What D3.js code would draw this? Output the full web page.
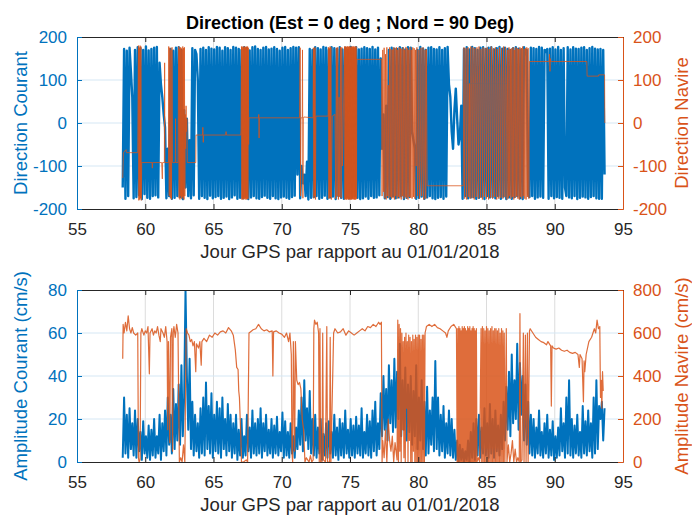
<!DOCTYPE html>
<html><head><meta charset="utf-8">
<script src="https://cdn.jsdelivr.net/npm/d3@7"></script>
<style>
body{margin:0;background:#fff}
svg{display:block}
text{font-family:"Liberation Sans",Arial,Helvetica,sans-serif}
</style>
</head><body>
<svg id="chart" width="692" height="515"></svg>
<script>
// ---------------- DATA ----------------
const xTicks = [55, 60, 65, 70, 75, 80, 85, 90, 95];
const dirTicks = [-200, -100, 0, 100, 200];
const ampCourantTicks = [0, 20, 40, 60, 80];
const ampNavireTicks = [0, 200, 400, 600, 800];

const titleText = "Direction (Est = 0 deg ; Nord = 90 Deg)";
const xLabelText = "Jour GPS par rapport au 01/01/2018";
const yLabels = ["Direction Courant", "Direction Navire", "Amplitude Courant (cm/s)", "Amplitude Navire (cm/s)"];

// current series sampled every 0.1 day starting at day 58.35
const courantStart = 58.35, courantStep = 0.1;

// Direction courant (deg), one row per day
const dirCourant = [
 -150,172,-176,168,-170,175,120,60,-175,170,
 -172,176,-168,174,-177,170,-165,178,-174,169,
 -176,172,-170,175,-168,177,-173,140,90,60,
 20,-10,-175,-60,-170,172,-176,168,-174,175,
 -170,176,-172,170,-177,30,-150,10,-170,-40,
 -175,174,-168,170,160,100,-176,172,-170,175,
 -174,170,-177,176,-169,173,-175,171,-172,177,
 -170,175,-176,168,-174,176,-171,174,-177,170,
 -173,177,-168,175,-176,172,-174,170,-175,176,
 -171,174,-177,169,-173,176,-170,178,-175,172,
 -176,170,-172,175,-169,177,-174,171,-176,173,
 -170,176,-175,172,-177,168,-173,175,-171,177,
 -174,170,-176,174,-172,177,-169,175,-120,176,
 -175,-100,-140,-120,-170,-90,-178,172,-174,170,
 -172,176,-170,174,-176,171,-174,177,-169,175,
 -176,170,-173,176,-171,174,-177,172,-170,176,
 -174,171,-176,175,-172,170,-175,177,-173,172,
 -170,176,-174,171,-177,173,-175,176,-171,174,
 -176,172,-170,177,-174,171,-173,175,-168,150,
 -60,20,-175,40,-172,170,-176,175,-170,173,
 -175,172,-173,176,-170,174,-177,171,-174,176,
 -172,175,-20,-40,-60,-176,170,-174,177,-171,
 173,-176,170,-173,175,-170,176,-175,172,-177,
 171,-174,176,-172,170,-176,174,-171,177,90,
 60,-20,-60,30,80,10,-50,-30,40,-176,
 172,-170,176,-175,171,-173,177,-172,174,-176,
 170,-174,175,-171,176,-177,172,-170,175,-173,
 176,-172,171,-175,174,-170,177,-176,173,-171,
 175,-177,172,-173,170,-176,174,-172,176,-170,
 173,-175,171,-177,176,160,170,-165,-172,175,
 -170,174,-176,172,-173,177,-171,175,-174,170,
 165,172,-176,173,-170,176,-175,171,-172,177,
 -174,170,-176,174,-150,-170,176,-173,171,-175,
 176,-170,173,-177,172,-174,175,-171,176,-173,
 170,-176,174,-172,177,-170,173,-175,171,-176,
 172,-176,170,-120
];

// Amplitude courant (cm/s), one row per day
const ampCourant = [
 2,30,4,22,2,25,6,18,3,24,
 2,20,5,14,1,19,4,12,2,17,
 1,15,3,20,2,12,4,22,1,18,
 5,24,3,30,8,22,4,34,6,27,
 10,36,8,45,12,30,80,40,15,48,
 6,28,3,22,5,18,2,25,4,30,
 3,37,6,26,4,32,2,22,5,28,
 4,25,2,30,6,20,3,27,5,22,
 2,18,4,22,1,15,3,20,2,12,
 3,22,5,16,2,24,4,18,3,20,
 4,25,2,18,5,22,3,15,4,20,
 2,17,4,21,3,14,5,23,2,19,
 3,14,2,18,4,12,2,16,6,24,
 8,30,5,38,10,25,6,33,4,20,
 3,22,2,16,4,20,1,13,3,18,
 2,19,4,14,2,22,3,16,1,20,
 3,18,2,24,4,15,2,20,3,17,
 2,21,4,17,3,25,2,14,4,22,
 3,19,2,24,5,28,3,18,6,32,
 12,40,15,34,10,45,18,38,14,48,
 16,42,20,55,12,38,15,44,10,36,
 14,40,8,33,12,45,6,30,10,38,
 6,28,3,35,4,24,8,30,5,47,
 6,30,3,22,5,26,2,18,4,24,
 3,20,2,15,1,10,0,8,1,6,
 0,5,1,10,0,14,2,18,1,20,
 3,22,2,16,4,25,3,18,2,27,
 4,20,2,24,5,17,3,22,6,28,
 10,35,15,42,12,50,18,38,20,55,
 15,46,22,40,10,36,8,28,4,22,
 3,20,2,16,4,24,3,14,2,18,
 4,22,2,15,3,19,1,12,2,16,
 3,25,5,18,2,30,4,38,3,20,
 2,17,4,22,3,14,2,26,4,19,
 3,24,5,18,2,30,4,38,6,26,
 20,28,10,25
];

// Direction navire (deg): [day, value]
const dirNavire = [
 [58.35,-128],[58.4,-69],[58.6,-62],[58.62,-69],[59.45,-69],
 [59.5,180],[59.53,-180],[59.56,175],[59.59,-178],[59.62,180],[59.65,-175],[59.68,178],[59.71,-180],[59.74,-92],
 [60.5,-92],[60.52,-105],[60.54,-92],[61.2,-92],[61.25,-130],[61.27,-92],[61.4,-92],[61.42,140],[61.44,-92],
 [61.7,-92],[61.72,178],[61.76,-170],[61.8,175],[61.84,-175],[61.88,170],[61.92,-178],[61.96,176],[62.0,-92],
 [62.2,-92],[62.22,10],[62.24,-92],[62.4,-92],
 [62.45,178],[62.48,-175],[62.51,172],[62.54,-178],[62.57,176],[62.6,-170],[62.63,175],[62.66,-176],[62.69,170],[62.72,-172],
 [62.75,178],[62.78,-175],[62.81,174],[62.84,-178],[62.87,176],[62.9,-170],[62.93,20],[62.96,-60],[62.99,40],[63.02,-20],[63.05,10],[63.08,-92],
 [63.7,-92],[63.72,-28],[64.2,-28],[64.22,-10],[64.25,-45],[64.27,-28],[65.9,-28],[65.92,-20],[65.94,-28],[67.0,-28],[67.02,-15],
 [67.05,178],[67.075,-178],[67.1,176],[67.125,-176],[67.15,178],[67.175,-178],[67.2,175],[67.225,-177],[67.25,178],[67.275,-176],
 [67.3,177],[67.325,-178],[67.35,176],[67.375,-175],[67.4,178],[67.425,-178],[67.45,176],[67.475,-176],[67.5,178],[67.525,-177],
 [67.55,175],[67.575,-50],[67.6,12],
 [68.3,12],[68.32,20],[68.34,-35],[68.36,12],[71.3,12],
 [71.35,175],[71.38,-170],[71.41,12],[71.5,12],[71.52,170],[71.55,-175],[71.58,10],[71.62,14],[72.3,12],
 [72.32,175],[72.35,-175],[72.38,172],[72.41,-170],[72.44,176],[72.47,-178],[72.5,16],[73.4,16],
 [73.42,176],[73.45,-176],[73.48,174],[73.51,-175],[73.54,178],[73.57,-172],[73.6,176],[73.63,-178],[73.7,16],[73.9,20],
 [73.95,-176],[74.0,175],[74.05,-170],[74.1,176],[74.15,-178],[74.2,60],[74.25,-172],[74.3,176],[74.35,-175],[74.4,176],[74.45,-100],
 [74.6,178],[74.625,-178],[74.65,177],[74.675,-177],[74.7,178],[74.725,-178],[74.75,176],[74.775,-178],[74.8,178],[74.825,-176],
 [74.85,178],[74.875,-178],[74.9,177],[74.925,-178],[74.95,178],[74.975,-177],[75.0,178],[75.025,-178],[75.05,176],[75.075,-178],
 [75.1,178],[75.125,-178],[75.15,177],[75.175,-176],[75.2,178],[75.225,-178],[75.25,178],[75.275,-177],[75.3,176],[75.325,-178],
 [75.35,178],[75.375,-178],[75.4,177],[75.425,-178],[75.45,178],[75.475,-176],[75.5,148],
 [77.3,148],
 [77.35,-170],[77.4,170],[77.45,-160],[77.5,175],[77.55,-175],[77.6,160],[77.65,-178],[77.7,176],[77.75,-170],[77.8,88],
 [77.85,-175],[77.9,176],[77.95,-172],[78.0,172],[78.05,-176],[78.1,170],[78.15,-174],[78.2,176],[78.25,-178],[78.3,174],
 [78.35,-170],[78.4,176],[78.45,-176],[78.5,170],[78.55,-172],[78.6,176],[78.65,-175],[78.7,174],[78.75,-178],[78.8,172],
 [78.85,-170],[78.9,176],[78.95,-176],[79.0,170],[79.05,-172],[79.1,177],[79.15,-175],[79.2,174],[79.25,-178],[79.3,170],
 [79.35,-172],[79.4,176],[79.45,-174],[79.5,170],[79.55,-176],[79.6,176],[79.65,-172],[79.7,174],[79.75,-176],[79.8,170],
 [79.85,-100],[79.9,176],[79.95,-170],[80.0,-100],[80.05,170],[80.1,-176],[80.15,-92],[80.2,175],[80.25,-170],[80.3,-95],
 [80.35,176],[80.4,-178],[80.45,-100],[80.5,170],[80.55,-176],[80.6,172],[80.65,-146],
 [83.3,-146],
 [83.35,176],[83.4,-176],[83.45,92],[83.5,174],[83.55,-178],[83.6,92],[83.65,176],[83.7,-172],[83.75,92],[83.8,-176],
 [83.85,178],[83.9,92],[83.95,-175],[84.0,176],[84.05,92],[84.1,-178],[84.15,174],[84.2,92],[84.25,-172],[84.3,176],
 [84.35,92],[84.4,-176],[84.45,178],[84.5,92],[84.55,-174],[84.6,172],[84.65,92],[84.7,-178],[84.75,176],[84.8,92],
 [84.85,-172],[84.9,174],[84.95,92],[85.0,-176],[85.05,176],[85.1,92],[85.15,-178],[85.2,172],[85.25,92],[85.3,-174],
 [85.35,178],[85.4,92],[85.45,-176],[85.5,174],[85.55,92],[85.6,-172],[85.65,176],[85.7,92],[85.75,-178],[85.8,172],
 [85.85,92],[85.9,-176],[85.95,176],[86.0,92],[86.05,-174],[86.1,174],[86.15,92],[86.2,-176],[86.25,178],[86.3,92],
 [86.35,-172],[86.4,176],[86.45,92],[86.5,-178],[86.55,170],[86.6,-175],[86.65,176],[86.7,-170],[86.75,172],[86.8,-176],
 [86.85,174],[86.9,-172],[86.95,176],[87.0,-178],[87.05,170],[87.1,-174],[87.15,176],[87.2,-170],[87.25,174],[87.3,-176],
 [87.35,172],[87.4,-178],[87.45,176],[87.5,-172],[87.55,174],[87.6,-176],[87.65,178],[87.7,-170],[87.75,172],[87.8,-176],
 [87.85,174],[87.9,-178],[87.95,176],[88.0,-172],[88.05,174],[88.1,-176],[88.15,143],
 [89.6,143],[89.62,160],[89.65,120],[89.67,150],[89.7,143],[92.35,143],[92.37,109],[93.2,109],[93.22,112],[93.65,112],[93.67,0]
];

// Amplitude navire (cm/s): [day, value]
const ampNavire = [
 [58.35,480],[58.38,640],[58.45,600],[58.55,650],[58.65,610],[58.75,680],[58.85,620],[58.95,600],[59.05,625],[59.15,600],
 [59.3,590],[59.45,600],[59.5,20],[59.55,0],[59.62,10],[59.68,600],[59.75,620],
 [59.9,590],[60.0,610],[60.1,600],[60.2,630],[60.3,410],[60.35,600],[60.5,620],[60.6,590],[60.7,610],[60.8,600],[60.9,630],
 [61.0,590],[61.1,560],[61.15,620],[61.3,600],[61.4,580],[61.5,630],[61.6,560],[61.65,150],[61.7,560],[61.8,90],[61.85,580],
 [61.95,620],[62.0,50],[62.05,600],[62.1,630],[62.2,580],[62.3,640],[62.4,600],[62.45,300],[62.5,0],[62.6,20],[62.7,0],
 [62.8,80],[62.9,0],[63.0,620],[63.1,600],[63.2,590],[63.3,560],[63.4,570],[63.5,540],[63.6,560],[63.7,420],[63.75,550],
 [63.9,530],[64.0,560],[64.1,450],[64.15,560],[64.3,575],[64.5,560],[64.7,590],[64.9,580],[65.1,600],[65.3,590],[65.5,605],
 [65.7,610],[65.9,600],[66.1,625],[66.3,610],[66.45,590],[66.6,520],[66.7,440],[66.8,430],[66.85,330],[66.9,300],[67.0,120],
 [67.05,0],[67.2,0],[67.4,10],[67.5,0],[67.6,600],[67.7,605],[67.9,615],[68.1,620],[68.3,640],[68.5,620],[68.7,610],[68.9,615],
 [69.1,605],[69.3,610],[69.35,400],[69.4,605],[69.6,610],[69.8,600],[70.0,595],[70.2,580],[70.35,600],[70.5,560],[70.6,600],
 [70.7,500],[70.75,40],[70.8,0],[70.85,560],[70.95,50],[71.0,560],[71.1,380],[71.2,360],[71.3,370],[71.4,340],[71.5,200],
 [71.6,150],[71.7,0],[71.8,20],[71.9,10],[72.0,0],[72.1,30],[72.2,0],[72.3,10],[72.35,620],[72.4,660],[72.5,640],[72.6,650],
 [72.7,600],[72.75,0],[72.8,620],[72.85,0],[72.95,0],[73.0,600],[73.05,10],[73.2,0],[73.3,630],[73.35,0],[73.5,0],[73.55,580],
 [73.6,0],[73.8,600],[73.9,620],[74.1,600],[74.3,605],[74.5,620],[74.7,590],[74.9,610],[75.1,600],[75.3,590],[75.5,600],
 [75.7,610],[75.9,620],[76.1,610],[76.3,630],[76.5,625],[76.7,640],[76.9,630],[77.1,650],[77.2,640],[77.3,650],[77.35,0],
 [77.4,100],[77.5,20],[77.6,150],[77.7,0],[77.8,200],[77.9,100],[78.0,50],[78.1,120],[78.2,0],[78.3,90],[78.45,10],
 [78.5,660],[78.55,0],[78.6,640],[78.65,50],[78.7,620],[78.75,0],[78.8,600],[78.85,150],[78.9,560],[78.95,20],[79.0,580],
 [79.05,0],[79.1,600],[79.15,250],[79.2,560],[79.25,0],[79.3,590],[79.35,100],[79.4,580],[79.45,0],[79.5,560],[79.55,0],
 [79.6,590],[79.65,50],[79.7,570],[79.75,0],[79.8,590],[79.85,0],[79.9,580],[79.95,0],[80.0,590],[80.05,0],[80.1,590],
 [80.15,0],[80.2,570],[80.25,0],[80.3,590],[80.35,0],[80.4,590],[80.45,0],[80.5,600],
 [80.6,630],[80.8,640],[81.0,630],[81.2,640],[81.4,625],[81.6,620],[81.8,610],[82.0,600],[82.1,580],[82.2,610],[82.4,630],
 [82.6,640],[82.8,620],[82.85,0],
 [82.9,620],[82.94,0],[82.98,630],[83.02,0],[83.06,620],[83.1,0],[83.14,610],[83.18,0],[83.22,630],[83.26,0],[83.3,620],
 [83.34,0],[83.38,630],[83.42,0],[83.46,620],[83.5,0],[83.54,610],[83.58,0],[83.62,630],[83.66,0],[83.7,620],[83.74,0],
 [83.78,630],[83.82,0],[83.86,610],[83.9,0],[83.94,620],[83.98,0],[84.02,630],[84.06,0],[84.1,620],[84.14,0],[84.18,610],
 [84.22,0],[84.26,620],[84.3,0],
 [84.4,20],[84.5,0],[84.6,620],[84.65,0],[84.7,630],[84.75,0],[84.8,620],[84.85,0],[84.9,610],[84.95,0],[85.0,630],[85.05,0],
 [85.1,620],[85.15,0],[85.2,610],[85.25,0],[85.3,620],[85.35,0],[85.4,630],[85.45,0],[85.5,610],[85.55,0],[85.6,620],[85.65,0],
 [85.7,620],[85.75,0],[85.8,610],[85.85,0],[85.9,620],[85.95,0],[86.0,600],[86.05,0],[86.1,620],[86.15,0],[86.2,610],[86.25,0],
 [86.3,600],[86.35,0],[86.45,620],[86.5,0],
 [86.6,80],[86.7,0],[86.8,40],[86.9,100],[87.0,0],[87.1,60],[87.2,0],[87.3,20],[87.4,0],[87.45,690],[87.5,0],[87.6,10],
 [87.7,600],[87.75,0],[87.85,590],[87.9,0],[88.0,600],[88.05,0],[88.15,610],
 [88.2,620],[88.4,600],[88.6,580],[88.8,570],[89.0,560],[89.2,555],[89.4,545],[89.5,560],[89.7,540],[89.75,260],[89.8,540],
 [89.9,530],[90.1,525],[90.3,530],[90.5,520],[90.7,515],[90.9,520],[91.1,510],[91.3,505],[91.5,510],[91.7,500],[91.8,440],
 [91.85,500],[92.0,480],[92.1,280],[92.15,470],[92.2,420],[92.3,500],[92.5,560],[92.7,580],[92.9,620],[93.0,600],[93.1,660],
 [93.2,620],[93.3,630],[93.35,300],[93.4,380],[93.45,250],[93.5,420],[93.55,330]
];

// ---------------- DRAWING ----------------
const BLUE = "#0072BD", ORANGE = "#D95319", DARK = "#262626";
const svg = d3.select("#chart");
const plotLeft = 77, plotRight = 623;
const FONT = '"Liberation Sans", Arial, Helvetica, sans-serif';

const x = d3.scaleLinear().domain([55, 95]).range([0, plotRight - plotLeft]);

const courantTimes = d3.range(dirCourant.length).map(i => courantStart + i * courantStep);

function panel(opt) {
  const h = opt.bottom - opt.top, w = plotRight - plotLeft;
  const g = svg.append("g").attr("transform", `translate(${plotLeft},${opt.top})`);
  const yL = d3.scaleLinear().domain(opt.leftDomain).range([h, 0]);
  const yR = d3.scaleLinear().domain(opt.rightDomain).range([h, 0]);

  // grid
  g.append("g").selectAll("line").data(xTicks.slice(1, -1)).join("line")
    .attr("x1", d => x(d)).attr("x2", d => x(d)).attr("y1", 0).attr("y2", h)
    .attr("stroke", "#dcdcdc").attr("stroke-width", 1);
  g.append("g").selectAll("line").data(opt.leftTicks.slice(1, -1)).join("line")
    .attr("x1", 0).attr("x2", w).attr("y1", d => yL(d)).attr("y2", d => yL(d))
    .attr("stroke", "#d5e7f4").attr("stroke-width", 1);

  const clipId = "clip" + opt.top;
  svg.append("clipPath").attr("id", clipId).append("rect")
    .attr("x", 0).attr("y", 0).attr("width", w).attr("height", h);
  const data = g.append("g").attr("clip-path", `url(#${clipId})`);

  const pairsL = opt.leftValues.map((v, i) => [courantTimes[i], v]);
  const lineL = d3.line().x(d => x(d[0])).y(d => yL(d[1]));
  data.append("path").attr("d", lineL(pairsL)).attr("fill", "none")
    .attr("stroke", BLUE).attr("stroke-width", opt.blueWidth).attr("stroke-linejoin", "round");

  const lineR = d3.line().x(d => x(d[0])).y(d => yR(d[1]));
  data.append("path").attr("d", lineR(opt.rightValues)).attr("fill", "none")
    .attr("stroke", ORANGE).attr("stroke-width", opt.orangeWidth).attr("stroke-opacity", 0.85).attr("stroke-linejoin", "round");

  // axes
  const fmt = d => String(d);
  const ax = g.append("g").attr("transform", `translate(0,${h})`)
    .call(d3.axisBottom(x).tickValues(xTicks).tickSize(-5).tickSizeOuter(0).tickPadding(14).tickFormat(fmt));
  ax.attr("font-size", 17).attr("font-family", FONT);
  ax.select(".domain").attr("stroke", DARK);
  ax.selectAll(".tick line").attr("stroke", DARK);
  ax.selectAll(".tick text").attr("fill", DARK);

  const axT = g.append("g")
    .call(d3.axisTop(x).tickValues(xTicks).tickSize(-5).tickSizeOuter(0).tickFormat(""));
  axT.select(".domain").attr("stroke", DARK);
  axT.selectAll(".tick line").attr("stroke", DARK);

  const ayL = g.append("g")
    .call(d3.axisLeft(yL).tickValues(opt.leftTicks).tickSize(-5).tickSizeOuter(0).tickPadding(10).tickFormat(fmt));
  ayL.attr("font-size", 17).attr("font-family", FONT);
  ayL.select(".domain").attr("stroke", BLUE);
  ayL.selectAll(".tick line").attr("stroke", BLUE);
  ayL.selectAll(".tick text").attr("fill", BLUE);

  const ayR = g.append("g").attr("transform", `translate(${w},0)`)
    .call(d3.axisRight(yR).tickValues(opt.rightTicks).tickSize(-5).tickSizeOuter(0).tickPadding(10).tickFormat(fmt));
  ayR.attr("font-size", 17).attr("font-family", FONT);
  ayR.select(".domain").attr("stroke", ORANGE);
  ayR.selectAll(".tick line").attr("stroke", ORANGE);
  ayR.selectAll(".tick text").attr("fill", ORANGE);

  // labels
  svg.append("text").attr("x", plotLeft + w / 2).attr("y", opt.bottom + 49)
    .attr("text-anchor", "middle").attr("font-size", 18.5).attr("fill", DARK).text(xLabelText);
  svg.append("text").attr("transform", `translate(21,${opt.top + h / 2}) rotate(-90)`)
    .attr("text-anchor", "middle").attr("dy", "0.35em").attr("font-size", 18.5).attr("fill", BLUE).text(opt.leftLabel);
  svg.append("text").attr("transform", `translate(682,${opt.top + h / 2}) rotate(-90)`)
    .attr("text-anchor", "middle").attr("dy", "0.35em").attr("font-size", 18.5).attr("fill", ORANGE).text(opt.rightLabel);
}

panel({top: 37, bottom: 209, leftDomain: [-200, 200], rightDomain: [-200, 200],
  leftTicks: dirTicks, rightTicks: dirTicks, leftValues: dirCourant, rightValues: dirNavire,
  leftLabel: yLabels[0], rightLabel: yLabels[1], blueWidth: 2.4, orangeWidth: 0.9});
panel({top: 290, bottom: 462, leftDomain: [0, 80], rightDomain: [0, 800],
  leftTicks: ampCourantTicks, rightTicks: ampNavireTicks, leftValues: ampCourant, rightValues: ampNavire,
  leftLabel: yLabels[2], rightLabel: yLabels[3], blueWidth: 2.0, orangeWidth: 1.2});

svg.append("text").attr("x", 350).attr("y", 28.5).attr("text-anchor", "middle")
  .attr("font-size", 18).attr("font-weight", "bold").attr("fill", "#000").text(titleText);
</script>
</body></html>
